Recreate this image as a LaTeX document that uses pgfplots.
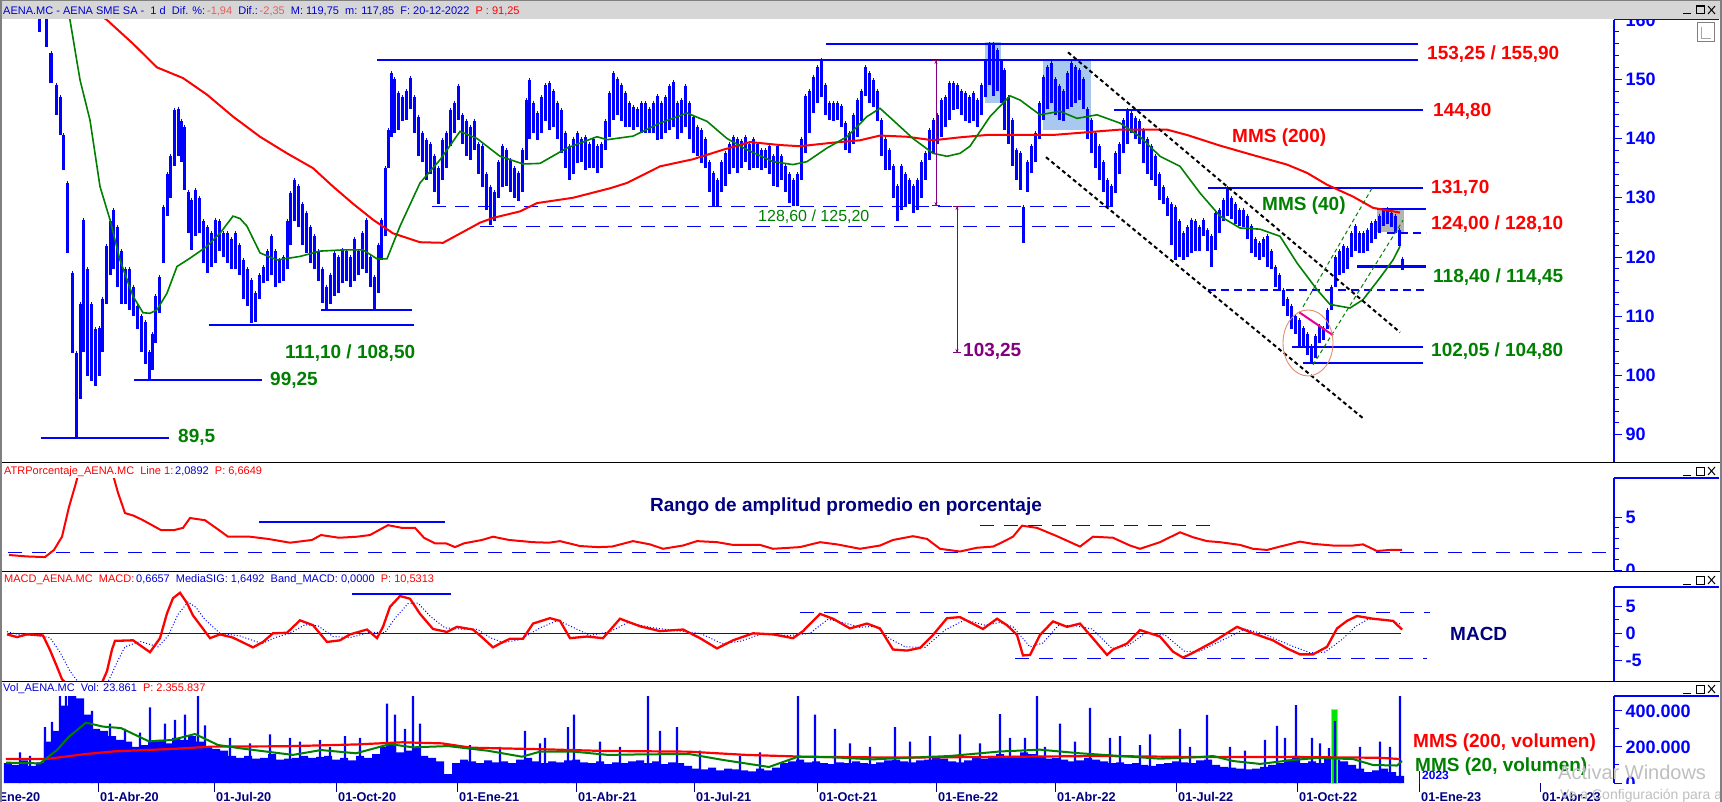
\documentclass[border=0pt]{standalone}
\usepackage{pgfplots}
\pgfplotsset{compat=1.18}
\usepackage{pgfplotstable}
\usepackage{fontspec}
\setmainfont{Liberation Sans}
\usetikzlibrary{arrows.meta}
\definecolor{pblue}{RGB}{0,0,255}
\definecolor{hblue}{RGB}{0,0,210}
\definecolor{navy}{RGB}{0,0,128}
\definecolor{mgreen}{RGB}{0,128,0}
\definecolor{mred}{RGB}{255,0,0}
\definecolor{lred}{RGB}{235,90,90}
\definecolor{purp}{RGB}{128,0,128}
\definecolor{hdrgray}{RGB}{214,214,214}
\definecolor{selblue}{RGB}{168,200,240}
\definecolor{selgray}{RGB}{180,180,180}
\definecolor{salmon}{RGB}{230,140,110}
\definecolor{lime}{RGB}{0,230,0}
\newcommand{\fs}[1]{\fontsize{#1}{#1}\selectfont}

\pgfplotstableread{
x lo hi
10 168 174
20 170 176
30 167 173
40 158 166
47 155.5 162
51 149.3 154.4
56 144 149
60 140.6 147
63 134.7 140.6
67 120.7 132.5
72 103.8 117.3
76 89.5 103.8
80 96 112
83 104 126.3
87 100 118
91 99 112
95 98.2 107.8
99 100 108
102 104 113
106 112 121.8
110 117 126
113 118 128
117 115 125
121 112 121
125 112 118
129 111 118
133 110 115
137 107.8 111.7
141 104 110
145 102 109
149 99.25 104
152 101 107
155 105.5 113.4
159 110.6 116.7
163 119 128.5
167 127 134
170 130 137
174 135.3 144.8
178 137 145
181 136 143
184 131.3 142
188 124 131
191 121.2 129.7
195 123.5 131.3
199 124 130
203 119 126
207 117.3 125
211 118.4 124
215 119 126.3
219 121 126
223 120 124
227 119 124
231 118 123
235 117.9 124
239 117 122
243 113 119.5
247 111.7 118
251 108.9 116.2
255 109 114
259 113 117
263 115.6 118.4
267 116 121
271 117 123.5
275 115 121
279 115.6 119.5
283 116 120
287 118 126
290 122 130.8
294 126 133
298 125 132
302 122 129
306 120.7 127.4
310 119 125
314 117.9 123.5
318 116 121
322 112.2 117.9
326 111.1 115
330 112 117
334 113.4 120.7
338 114 120
342 115.6 121.2
346 116 121
350 115 120
354 116 123
358 117 121
362 118 124
366 117.3 126.3
370 115 120
374 111.1 116.7
378 114 122
381 119.5 126.3
385 123.5 135
388 135 141.5
391 140.3 151
394 141 150
398 141.5 147.6
402 143 147
406 143.1 148
410 145 150.2
414 141 147
418 137 143.7
422 136 141
426 133 139.8
430 134 139
434 131 137
438 129 135
442 133 139.8
446 135 141
450 138.7 144.8
454 141 146
458 143.1 148.8
462 139 144
466 137 143
470 136.4 142
474 138 143
478 134 139
482 131.9 138.7
486 128 134
490 125.4 131.9
494 126 131
498 130 136
502 131.9 138.7
506 132 138
510 131 136.4
514 130 135
518 129.4 134.2
522 131 138
526 136.4 146.5
529 140 149.9
533 141 146
537 139.8 144.3
541 141 147
545 143 149
549 141.5 149.3
553 142 148
557 140 146
561 137.5 144.8
565 135 141
569 133 138.7
573 134 140
577 135.8 140.9
581 136 140
585 134.7 140.3
589 135 139
593 135 140
597 134.2 138.7
601 135 139
605 138 143
609 140.3 147.6
613 143.1 151
617 144 150
621 143 149
625 142 147.6
629 142 146
633 141.5 145.4
637 142 145
641 141 146
645 140.9 146
649 141 145
653 141 146
657 139.8 147.1
661 140 146
665 141 147
669 141.5 148.8
673 142 149.6
677 140 146
681 141 146.5
685 142 148.8
689 140 146
693 137.5 143.7
697 137 142
701 135.8 141.5
705 135 140
709 131 136
713 128.6 134.2
717 128.6 133
721 131 136
725 132 137.5
729 134 139
733 135 140.3
737 134.2 140
741 135 139.5
745 136 140.3
749 134.7 139
753 135 140
757 135 139
761 134.7 138.1
765 135 138
769 134 138.7
773 132 137
777 131.9 138.7
781 133 137
785 131 135.3
789 129.1 134
793 128.6 133
797 128.6 134
801 133 140
805 137.5 147.1
809 141 148
813 144.3 150.4
817 146 152
821 147 153.25
825 144 149
829 143.1 146
833 143 146
837 143.1 146
841 142 145.5
845 138 142.6
849 137.5 141
853 139 144
857 140.3 146.5
861 143 148
865 147.1 152.1
869 146 151
873 145.4 149.9
877 143 148
881 137 143.1
885 134.7 140
889 134.7 138.1
893 130 135.3
897 126 132
901 128 135.3
905 128.5 134
909 129 133
913 127.4 132
917 128 133
921 130 136
925 133 137.5
929 136.4 141.5
933 137.5 143.1
937 139 144
941 140.3 146.5
945 142 147
949 143.1 149.3
953 144.8 149.3
957 145 149
961 144 148
965 143 147.6
969 142.6 147
973 143 147.6
977 142 146.5
981 144 149
985 147 153
989 149 155.9
993 147.1 155.9
997 148 155
1001 146 153
1004 141.5 151.6
1008 139 147
1012 135.3 143.1
1016 133 138
1020 131.3 137.5
1023 122.4 128.5
1027 131 136
1031 134.2 138.7
1035 136 141
1039 140 146
1043 143.1 150.4
1047 145 152
1051 146 152.7
1055 144 150
1059 143.1 148.8
1063 143 148
1067 145 151
1071 145.4 152.7
1075 146 152
1079 146.5 151.6
1083 145 150
1087 140 145
1091 137.5 143.1
1095 135 141
1099 133 138.7
1103 131 136
1107 128.5 133
1111 128.6 132
1115 130.8 137.5
1119 134 139
1123 137.5 143.1
1127 139 144.8
1131 140.9 144.3
1135 140 143.5
1139 139 143
1143 135.8 141.5
1147 134 140
1151 133 138.7
1155 132 137
1159 129.7 134
1163 129 131.9
1167 127 130
1171 122 129
1175 119.5 128.5
1179 120 126
1183 119.5 124
1187 120 125
1191 120.7 126.3
1195 121 126
1199 121 125
1203 123.5 126.3
1207 121 124.5
1211 118.4 123.5
1215 121.2 127.4
1219 124 128
1223 126 129.7
1227 126.9 131.7
1231 126.5 130
1235 125.5 129
1239 125.2 128
1243 125 128
1247 123 127
1251 120.7 125.2
1255 120 123
1259 119.5 122.4
1263 120 123
1267 118.4 123.5
1271 118 121
1275 115 118.4
1279 114.45 117
1283 111.7 114.5
1287 110 113
1291 107.8 111.7
1295 107 110
1299 105 109.4
1303 105 108
1307 103.5 107
1311 102.05 105
1315 103 106.6
1319 105.5 108.3
1323 106 108
1327 107.8 111
1331 111 115
1335 115 120
1339 117 121
1343 117.3 121.8
1347 118 121.5
1351 120 124
1355 121 125.2
1359 120.7 124
1363 120.7 124
1367 121 124.5
1371 122.4 125.7
1375 123 126
1379 124 127
1383 125.2 128
1387 125.5 128.1
1391 125 127.5
1395 124 126.9
1399 121.8 124.6
1402 117.85 119.75
}\pricetab

\pgfplotstableread{
x v
8 110
16 100
24 125
32 95
40 115
48 230
56 290
64 430
72 483
80 470
88 380
96 300
104 290
112 260
120 240
128 230
136 200
144 210
152 230
160 240
168 220
176 250
184 240
192 260
200 230
208 200
216 190
224 180
232 150
240 140
248 150
256 135
264 140
272 160
280 130
288 135
296 140
304 150
312 140
320 145
328 150
336 130
344 140
352 125
360 150
368 140
376 160
384 200
392 210
400 170
408 180
416 200
424 150
432 140
440 120
448 50
456 110
464 130
472 120
480 110
488 125
496 115
504 120
512 110
520 130
528 140
536 120
544 110
552 120
560 115
568 125
576 130
584 115
592 110
600 120
608 105
616 115
624 110
632 120
640 125
648 110
656 120
664 105
672 115
680 110
688 95
696 80
704 75
712 85
720 70
728 80
736 75
744 70
752 65
760 80
768 70
776 85
784 110
792 120
800 130
808 115
816 120
824 110
832 105
840 115
848 110
856 120
864 110
872 105
880 115
888 125
896 130
904 120
912 115
920 125
928 130
936 140
944 135
952 120
960 115
968 125
976 140
984 135
992 150
1000 160
1008 145
1016 150
1024 170
1032 160
1040 150
1048 135
1056 140
1064 130
1072 120
1080 125
1088 140
1096 130
1104 120
1112 110
1120 115
1128 105
1136 110
1144 100
1152 95
1160 105
1168 110
1176 120
1184 115
1192 110
1200 125
1208 130
1216 100
1224 90
1232 85
1240 80
1248 75
1256 80
1264 90
1272 100
1280 110
1288 130
1296 150
1304 110
1312 120
1320 110
1328 140
1336 130
1344 120
1352 100
1360 80
1368 60
1376 70
1384 80
1392 60
1400 40
}\voltab

\pgfplotstableread{
x v
20 170
30 150
45 310
52 340
60 483
66 483
75 483
92 400
110 330
125 300
140 280
150 420
165 330
175 350
185 380
198 483
205 320
230 250
250 220
270 270
290 250
300 230
320 240
330 200
345 260
360 250
387 440
395 380
405 300
413 483
420 330
470 210
500 200
525 290
540 220
545 250
568 310
574 380
600 230
620 200
648 483
660 290
677 310
700 180
740 150
760 170
798 483
815 380
835 300
850 220
870 200
895 310
910 230
930 260
960 270
980 220
1000 383
1010 250
1025 250
1037 483
1045 200
1060 330
1075 230
1090 417
1110 250
1120 260
1140 210
1150 270
1180 300
1190 200
1207 378
1230 200
1245 180
1265 240
1277 317
1285 250
1296 433
1312 250
1320 220
1329 194
1335 344
1360 200
1380 230
1390 200
1400 483
}\spiketab

\pgfplotsset{
  panel/.style={scale only axis, width=1612pt, xmin=2, xmax=1614,
    axis x line=none, axis y line*=right,
    y axis line style={pblue, line width=1.3pt},
    tick style={pblue, line width=1pt},
    tick align=outside, major tick length=8pt, minor tick length=5pt,
    yticklabel style={font=\fs{18}\bfseries, text=pblue},
    /pgf/number format/assume math mode=true,
    clip=true},
}
\newcommand{\btns}[1]{%
  \draw[black, line width=1pt] (1683pt,-#1pt-4pt) -- (1691pt,-#1pt-4pt);
  \draw[black, line width=1pt] (1696pt,-#1pt-4pt) rectangle (1704pt,-#1pt+4pt);
  \draw[black, line width=1.5pt] (1696pt,-#1pt+3.5pt) -- (1704pt,-#1pt+3.5pt);
  \draw[black, line width=1pt] (1708pt,-#1pt-4pt) -- (1715pt,-#1pt+4pt);
  \draw[black, line width=1pt] (1708pt,-#1pt+4pt) -- (1715pt,-#1pt-4pt);}

\begin{document}
\begin{tikzpicture}
\path[use as bounding box] (0,0) rectangle (1722pt,-802pt);
\clip (0,0) rectangle (1722pt,-802pt);
\fill[white] (0,0) rectangle (1722pt,-802pt);

% ================= PRICE =================
\begin{axis}[panel, at={(2pt,-20pt)}, anchor=north west, height=442pt,
  ymin=85.41, ymax=160, ytick={90,100,...,160}, minor y tick num=4]
  % highlight boxes
  \fill[selblue] (axis cs:985,156.3) rectangle (axis cs:1001,146.0);
  \fill[selblue] (axis cs:1043,153.2) rectangle (axis cs:1091,141.4);
  \fill[selgray] (axis cs:1377,128.2) rectangle (axis cs:1404,124.3);
  % dashed support levels
  \draw[pblue, line width=1pt, dash pattern=on 14pt off 9pt] (axis cs:432,128.6) -- (axis cs:1117,128.6);
  \draw[pblue, line width=1pt, dash pattern=on 14pt off 9pt] (axis cs:480,125.2) -- (axis cs:1122,125.2);
  \draw[pblue, line width=2pt, dash pattern=on 8pt off 5pt] (axis cs:1387,124.0) -- (axis cs:1426,124.0);
  \draw[pblue, line width=2pt, dash pattern=on 8pt off 5pt] (axis cs:1208,114.45) -- (axis cs:1426,114.45);
  % solid levels
  \draw[pblue, line width=2.2pt] (axis cs:41,89.5) -- (axis cs:169,89.5);
  \draw[pblue, line width=2.2pt] (axis cs:134,99.25) -- (axis cs:262,99.25);
  \draw[pblue, line width=2.2pt] (axis cs:209,108.5) -- (axis cs:414,108.5);
  \draw[pblue, line width=2.2pt] (axis cs:321,111.1) -- (axis cs:412,111.1);
  \draw[pblue, line width=2.2pt] (axis cs:377,153.25) -- (axis cs:1418,153.25);
  \draw[pblue, line width=2.2pt] (axis cs:826,155.9) -- (axis cs:1418,155.9);
  \draw[pblue, line width=2.2pt] (axis cs:1114,144.8) -- (axis cs:1423,144.8);
  \draw[pblue, line width=2.2pt] (axis cs:1208,131.7) -- (axis cs:1423,131.7);
  \draw[pblue, line width=2.2pt] (axis cs:1377,128.1) -- (axis cs:1426,128.1);
  \draw[pblue, line width=2.2pt] (axis cs:1357,118.4) -- (axis cs:1426,118.4);
  \draw[pblue, line width=2.2pt] (axis cs:1292,104.8) -- (axis cs:1423,104.8);
  \draw[pblue, line width=2.2pt] (axis cs:1303,102.05) -- (axis cs:1423,102.05);
  % price bars
  \addplot[draw=none, mark=none, forget plot,
    error bars/.cd, y dir=plus, y explicit,
    error bar style={pblue, line width=3pt}, error mark options={draw=none}]
    table[x=x, y=lo, y error expr=\thisrow{hi}-\thisrow{lo}] {\pricetab};
  % MMS 200
  \addplot[mred, line width=2pt, mark=none] coordinates {
    (90,162) (107,160) (133,156) (157,152) (183,150.2) (207,147.4) (233,143.7)
    (260,140.3) (287,137.5) (313,135) (333,131.9) (353,129) (373,126.3) (393,124)
    (420,122.5) (443,122.4) (467,124.6) (480,125.8) (493,126.6) (520,127.7)
    (537,129.1) (573,130) (610,131.6) (627,132.5) (660,135.3) (693,136.5)
    (723,138.1) (750,139.4) (780,138.9) (800,138.7) (833,139.3) (860,139.7)
    (880,140.5) (907,140.3) (933,139.7) (960,140.2) (987,140.6) (1053,140.6)
    (1120,141.5) (1167,141.5) (1187,140.6) (1220,138.8) (1253,137.2)
    (1287,135.6) (1307,134.2) (1327,132.2) (1353,130.2) (1373,128.3) (1400,127.5)};
  % MMS 40
  \addplot[mgreen, line width=1.6pt, mark=none] coordinates {
    (65,163) (70,160) (80,149.9) (90,143.1) (100,131.9) (110,126.3) (120,119.5)
    (133,113.4) (143,110.6) (150,110.5) (157,111.1) (167,113.9) (177,118.4)
    (190,119.8) (207,121.8) (220,124) (233,126.9) (240,126.5) (247,125.2)
    (260,120.7) (277,119.5) (300,120.1) (320,121) (343,121.2) (363,121.2)
    (377,119.7) (387,119.7) (400,125.2) (420,132.5) (440,136.4) (460,141.2)
    (477,140) (500,137) (523,135.7) (540,135.8) (567,138.4) (597,140.3)
    (607,139.8) (633,140.4) (660,142.6) (687,144.3) (707,142.9) (727,140)
    (747,138.1) (773,136.1) (793,135.6) (807,136.1) (827,138.4) (847,140.3)
    (867,143.7) (880,145.1) (893,143.1) (913,140) (933,137.5) (947,137)
    (960,137.5) (970,138.7) (990,143.7) (1010,147.2) (1020,146.5) (1040,144)
    (1060,144.6) (1077,143.4) (1097,144) (1120,142.6) (1140,140.3) (1160,137)
    (1180,135.3) (1200,130.8) (1220,126.9) (1240,124.9) (1260,124.7)
    (1280,123.5) (1297,119) (1317,114.5) (1330,112) (1350,111.4) (1363,112.8)
    (1380,116.5) (1393,119.5) (1400,121.8)};
  % channel and trend lines
  \draw[black, line width=2pt, dash pattern=on 4pt off 3pt] (axis cs:1068,154.55) -- (axis cs:1400,107.3);
  \draw[black, line width=2pt, dash pattern=on 4pt off 3pt] (axis cs:1046,136.85) -- (axis cs:1363,92.8);
  \draw[mgreen, line width=1pt, dash pattern=on 4pt off 3pt] (axis cs:1303,111.6) -- (axis cs:1372,131.6);
  \draw[mgreen, line width=1pt, dash pattern=on 4pt off 3pt] (axis cs:1313,101.8) -- (axis cs:1403,126.2);
  \draw[magenta, line width=2pt] (axis cs:1299,110.7) -- (axis cs:1333,106.8);
  \draw[salmon, line width=0.9pt] (axis cs:1308,105.5) ellipse [x radius=25pt, y radius=33pt];
  % purple measures
  \draw[purp, line width=1pt, {Bar[width=8pt]}-{Bar[width=8pt]}] (axis cs:936,153.25) -- (axis cs:936,128.6);
  \draw[purp, line width=1pt, {Stealth[length=4pt,width=3pt]}-{Stealth[length=4pt,width=3pt]}] (axis cs:936,153.25) -- (axis cs:936,128.6);
  \draw[purp, line width=1pt, {Bar[width=8pt]}-{Bar[width=8pt]}] (axis cs:957,128.6) -- (axis cs:957,103.8);
  \draw[purp, line width=1pt, {Stealth[length=4pt,width=3pt]}-{Stealth[length=4pt,width=3pt]}] (axis cs:957,128.6) -- (axis cs:957,103.8);
\end{axis}

% ================= ATR =================
\fill[white] (0,-463pt) rectangle (1722pt,-572pt);
\begin{axis}[panel, at={(2pt,-478pt)}, anchor=north west, height=92pt,
  ymin=0, ymax=8.76, ytick={0,5}, minor y tick num=4]
  \draw[pblue, line width=1pt, dash pattern=on 14pt off 10pt] (axis cs:8,1.67) -- (axis cs:1614,1.67);
  \draw[pblue, line width=1pt, dash pattern=on 14pt off 10pt] (axis cs:980,4.19) -- (axis cs:1213,4.19);
  \draw[pblue, line width=2pt] (axis cs:259,4.57) -- (axis cs:445,4.57);
  \addplot[mred, line width=2pt, mark=none] coordinates {
    (9,1.43) (27,1.29) (45,1.23) (54,1.91) (62,3.17) (69,6.00) (76,8.30) (80,9.77)
    (90,10.71) (100,10.71) (110,9.77) (114,8.72) (118,7.36) (125,5.42) (134,5.16)
    (143,4.74) (161,3.80) (174,3.80) (183,4.01) (190,4.95) (205,4.74) (219,3.80)
    (228,3.17) (250,3.17) (268,2.96) (290,2.60) (312,2.86) (321,3.33) (339,3.07)
    (357,3.17) (370,3.33) (388,4.27) (402,4.01) (415,4.01) (424,3.07) (435,2.54)
    (446,2.54) (455,2.18) (464,2.54) (482,2.86) (493,3.17) (509,2.86) (533,2.65)
    (549,2.60) (560,2.75) (580,2.28) (598,2.18) (612,2.23) (633,2.75) (650,2.44)
    (663,2.02) (683,2.33) (697,2.75) (717,2.65) (733,2.39) (760,2.39) (773,2.02)
    (800,2.18) (820,2.65) (837,2.44) (860,2.02) (880,2.33) (893,2.86) (913,3.22)
    (927,2.96) (940,2.02) (960,1.76) (977,2.12) (993,2.23) (1000,2.54) (1013,3.17)
    (1022,4.22) (1037,4.01) (1057,3.22) (1080,2.23) (1093,3.17) (1113,3.07)
    (1130,2.33) (1140,2.02) (1160,2.65) (1180,3.59) (1193,3.12) (1207,2.75)
    (1220,2.65) (1240,2.39) (1253,2.02) (1267,1.91) (1280,2.23) (1300,2.70)
    (1313,2.49) (1333,2.33) (1353,2.33) (1363,2.44) (1377,1.81) (1390,1.91) (1402,1.91)};
\end{axis}

% ================= MACD =================
\fill[white] (0,-572pt) rectangle (1722pt,-682pt);
\begin{axis}[panel, at={(2pt,-587pt)}, anchor=north west, height=94pt,
  ymin=-8.83, ymax=8.57, ytick={-5,0,5}, yticklabels={-5,0,5}, minor y tick num=1]
  \draw[pblue, line width=1pt] (axis cs:8,0) -- (axis cs:1401,0);
  \draw[pblue, line width=2pt] (axis cs:352,7.22) -- (axis cs:451,7.22);
  \draw[pblue, line width=1pt, dash pattern=on 14pt off 10pt] (axis cs:800,3.9) -- (axis cs:1430,3.9);
  \draw[pblue, line width=1pt, dash pattern=on 14pt off 10pt] (axis cs:1015,-4.63) -- (axis cs:1427,-4.63);
  \addplot[pblue, line width=1pt, dash pattern=on 1pt off 2pt, mark=none] coordinates {
    (7,0.3) (20,-0.3) (35,-0.4) (50,-0.8) (60,-3.5) (70,-7) (80,-9.5) (95,-10.5)
    (108,-9) (118,-5) (125,-2.5) (140,-1.5) (158,-2.5) (168,-0.5) (178,3.5)
    (188,5.8) (196,4.8) (205,2.5) (220,0) (240,-0.5) (262,-1.9) (275,-0.8)
    (290,0) (305,1.6) (318,1.4) (333,-0.6) (350,-0.8) (370,0.2) (385,0.1)
    (395,2.8) (408,5.5) (418,5.6) (430,3.2) (445,1.0) (460,0.8) (478,0.7)
    (490,-0.8) (503,-1.7) (520,-1.2) (540,1.0) (558,2.4) (572,1.2) (590,-0.4)
    (610,0.3) (628,2.0) (650,1.1) (675,0.5) (700,0) (722,-1.9) (740,-1.5)
    (760,-0.2) (790,-0.4) (810,0.0) (828,2.6) (843,2.0) (860,1.1) (875,1.3)
    (890,-1.0) (905,-2.5) (925,-2.6) (945,0.6) (965,2.5) (985,1.5) (1000,2.0)
    (1013,1.2) (1030,-2.5) (1043,-1.8) (1058,1.4) (1075,1.4) (1092,0.8)
    (1112,-2.8) (1128,-2.3) (1145,0.0) (1165,-0.3) (1185,-3.4) (1200,-3.3)
    (1220,-1.5) (1245,0.8) (1265,-0.2) (1290,-2.2) (1310,-3.6) (1325,-3.5)
    (1343,-1.0) (1355,1.2) (1368,2.6) (1385,2.5) (1402,1.65)};
  \addplot[mred, line width=2.3pt, mark=none] coordinates {
    (7,-0.2) (17,-0.7) (27,-0.2) (43,-0.4) (50,-3.1) (57,-6.2) (62,-8.5) (70,-10)
    (90,-11) (100,-10) (107,-7) (112,-3) (115,-1.4) (133,-1.3) (150,-3.5)
    (160,-0.9) (167,3.7) (173,6.5) (180,7.5) (187,5.6) (193,3.3) (210,-0.9)
    (220,-0.2) (233,-0.8) (253,-2.6) (263,-1.6) (273,0) (287,0.1) (300,2.4)
    (313,1.5) (327,-1.6) (340,-1.3) (350,-0.2) (367,0.7) (377,-0.9) (383,1.2)
    (390,4.9) (400,6.9) (410,6.4) (420,3.6) (433,0.8) (447,0.25) (457,1.2)
    (473,0.7) (483,-0.9) (493,-2.6) (500,-1.9) (510,-1.0) (523,-1.0) (533,1.8)
    (550,2.8) (560,2.3) (570,-0.9) (587,-0.6) (603,-0.9) (620,2.7) (640,1.3)
    (660,0.4) (683,0.7) (700,-0.9) (717,-2.8) (733,-1.3) (753,0) (773,-0.2)
    (793,-0.9) (803,0.4) (820,3.6) (833,2.7) (850,0.9) (867,1.8) (880,0.9)
    (893,-3.0) (907,-3.2) (920,-2.7) (933,-0.3) (947,2.8) (960,3.0) (983,0.8)
    (997,2.7) (1007,1.5) (1017,-0.3) (1023,-4.1) (1030,-4.0) (1040,-0.3)
    (1053,2.2) (1067,1.2) (1080,1.8) (1090,-0.3) (1107,-4.0) (1113,-3.0)
    (1127,-1.9) (1140,0.6) (1160,-0.6) (1173,-3.4) (1183,-4.5) (1193,-3.6)
    (1213,-1.6) (1237,1.2) (1253,0) (1273,-1.3) (1287,-2.8) (1300,-3.9)
    (1313,-3.9) (1327,-2.5) (1337,0.9) (1347,2.3) (1357,3.2) (1373,2.7)
    (1393,2.3) (1402,0.7)};
\end{axis}

% ================= VOLUME =================
\fill[white] (0,-682pt) rectangle (1722pt,-784pt);
\begin{axis}[panel, at={(2pt,-696pt)}, anchor=north west, height=87pt,
  ymin=0, ymax=483, ytick={0,200,400}, yticklabels={0,200.000,400.000},
  minor y tick num=1]
  \addplot[ybar, bar width=8, bar shift=0pt, fill=pblue, draw=none] table[x=x,y=v] {\voltab};
  \addplot[ybar, bar width=6, bar shift=0pt, fill=lime, draw=selblue, line width=0.6pt] coordinates {(1334,411)};
  \addplot[ybar, bar width=2.2, bar shift=0pt, fill=pblue, draw=none] table[x=x,y=v] {\spiketab};
  \addplot[mred, line width=2.2pt, mark=none] coordinates {
    (6,133) (46,133) (86,161) (115,176) (172,189) (212,202) (287,204) (356,214)
    (402,226) (442,220) (471,196) (545,187) (603,178) (689,174) (746,156)
    (804,146) (895,141) (1000,145) (1100,150) (1200,144) (1300,144) (1380,140) (1400,133)};
  \addplot[mgreen, line width=2pt, mark=none] coordinates {
    (6,113) (40,109) (57,183) (69,257) (86,335) (103,313) (121,305) (149,231)
    (172,239) (195,272) (218,211) (241,192) (293,156) (321,183) (356,165)
    (390,216) (413,198) (448,205) (488,179) (522,146) (540,174) (574,174)
    (608,156) (643,159) (689,161) (723,128) (769,89) (798,146) (832,143)
    (873,131) (895,137) (950,150) (1000,175) (1040,185) (1080,165) (1120,150)
    (1160,135) (1200,144) (1213,150) (1233,122) (1260,106) (1293,128)
    (1317,139) (1353,133) (1373,100) (1397,97) (1402,122)};
\end{axis}

% top lines of the right-hand scales
\draw[pblue, line width=1.3pt] (1614pt,-19.5pt) -- (1719pt,-19.5pt);
\draw[pblue, line width=1.3pt] (1614pt,-478pt) -- (1719pt,-478pt);
\draw[pblue, line width=1.3pt] (1614pt,-587pt) -- (1719pt,-587pt);
\draw[pblue, line width=1.3pt] (1614pt,-696pt) -- (1719pt,-696pt);

% bottom strip with date axis
\fill[white] (0,-784pt) rectangle (1722pt,-802pt);
\foreach \p/\t in {-22/01-Ene-20, 98/01-Abr-20, 214/01-Jul-20, 336/01-Oct-20, 457/01-Ene-21,
    576/01-Abr-21, 694/01-Jul-21, 817/01-Oct-21, 936/01-Ene-22, 1055/01-Abr-22,
    1176/01-Jul-22, 1297/01-Oct-22, 1419/01-Ene-23, 1540/01-Abr-23}
  {\draw[navy, line width=1pt] (\p pt,-783pt) -- (\p pt,-792pt);
   \node[anchor=base west, inner sep=0pt, text=navy, font=\fs{12.7}\bfseries] at (\p pt+2pt,-801pt) {\t};}
\draw[pblue, line width=1pt] (1419pt,-771pt) -- (1419pt,-784pt);
\node[anchor=west, inner sep=0pt, text=pblue, font=\fs{12}\bfseries] at (1422pt,-775pt) {2023};

% separators
\draw[black, line width=1.5pt] (0,-462.5pt) -- (1722pt,-462.5pt);
\draw[black, line width=1.5pt] (0,-571.5pt) -- (1722pt,-571.5pt);
\draw[black, line width=1.5pt] (0,-681.5pt) -- (1722pt,-681.5pt);

% header bar
\fill[hdrgray] (0,0) rectangle (1722pt,-19pt);
\draw[gray, line width=1.5pt] (0,-0.75pt) -- (1722pt,-0.75pt);
\draw[pblue, line width=1.3pt] (1614pt,-19.5pt) -- (1719pt,-19.5pt);
\node[anchor=west, inner sep=0pt, font=\fs{11}] at (3pt,-11pt) {%
  \textcolor{hblue}{AENA.MC - AENA SME SA -\ \ 1 d\ \ Dif. \%:}\,\textcolor{lred}{-1,94}\ \ %
  \textcolor{hblue}{Dif.:}\,\textcolor{lred}{-2,35}\ \ %
  \textcolor{hblue}{M: 119,75\ \ m: 117,85\ \ F: 20-12-2022}\ \ \textcolor{red}{P : 91,25}};
\btns{10}
\draw[gray, line width=1pt, fill=white] (1697pt,-23pt) rectangle (1714pt,-42pt);
\draw[gray!70, line width=0.8pt] (1701pt,-27pt) -- (1701pt,-38pt) -- (1711pt,-38pt);

% panel headers
\node[anchor=west, inner sep=0pt, font=\fs{11}] at (4pt,-472pt) {%
  \textcolor{red}{ATRPorcentaje\_AENA.MC\ \ Line 1:}\,\textcolor{hblue}{2,0892}\ \ \textcolor{red}{P: 6,6649}};
\node[anchor=west, inner sep=0pt, font=\fs{11}] at (4pt,-580pt) {%
  \textcolor{red}{MACD\_AENA.MC\ \ MACD:}\,\textcolor{hblue}{0,6657\ \ MediaSIG: 1,6492\ \ Band\_MACD: 0,0000}\ \ \textcolor{red}{P: 10,5313}};
\node[anchor=west, inner sep=0pt, font=\fs{11}] at (3pt,-689pt) {%
  \textcolor{hblue}{Vol\_AENA.MC\ \ Vol: 23.861}\ \ \textcolor{red}{P: 2.355.837}};
\btns{471}
\btns{580}
\btns{689}

% annotations text
\begin{scope}[every node/.style={anchor=west, inner sep=0pt, font=\fs{19}\bfseries}]
\node[text=mred] at (1427pt,-54pt) {153,25 / 155,90};
\node[text=mred] at (1433pt,-111pt) {144,80};
\node[text=mred] at (1431pt,-188pt) {131,70};
\node[text=mred] at (1431pt,-224pt) {124,00 / 128,10};
\node[text=mgreen] at (1433pt,-277pt) {118,40 / 114,45};
\node[text=mgreen] at (1431pt,-351pt) {102,05 / 104,80};
\node[text=mred] at (1232pt,-138pt) {MMS (200)};
\node[text=mgreen] at (1262pt,-206pt) {MMS (40)};
\node[text=purp] at (963pt,-351pt) {103,25};
\node[text=mgreen] at (285pt,-353pt) {111,10 / 108,50};
\node[text=mgreen] at (270pt,-380pt) {99,25};
\node[text=mgreen] at (178pt,-437pt) {89,5};
\node[text=navy] at (650pt,-507pt) {Rango de amplitud promedio en porcentaje};
\node[text=navy] at (1450pt,-634pt) {MACD};
\node[text=mred] at (1413pt,-743pt) {MMS (200, volumen)};
\node[text=mgreen] at (1415pt,-767pt) {MMS (20, volumen)};
\end{scope}
\node[anchor=west, inner sep=0pt, font=\fs{16}, text=mgreen] at (758pt,-217pt) {128,60 / 125,20};
\node[anchor=west, inner sep=0pt, font=\fs{20}, text=black!25] at (1558pt,-772pt) {Activar Windows};
\node[anchor=west, inner sep=0pt, font=\fs{14}, text=black!25] at (1560pt,-796pt) {Ve a Configuración para activar Windows.};

% window borders
\draw[gray, line width=2pt] (1pt,0) -- (1pt,-802pt);
\draw[gray, line width=2pt] (1721pt,0) -- (1721pt,-802pt);
\end{tikzpicture}
\end{document}
